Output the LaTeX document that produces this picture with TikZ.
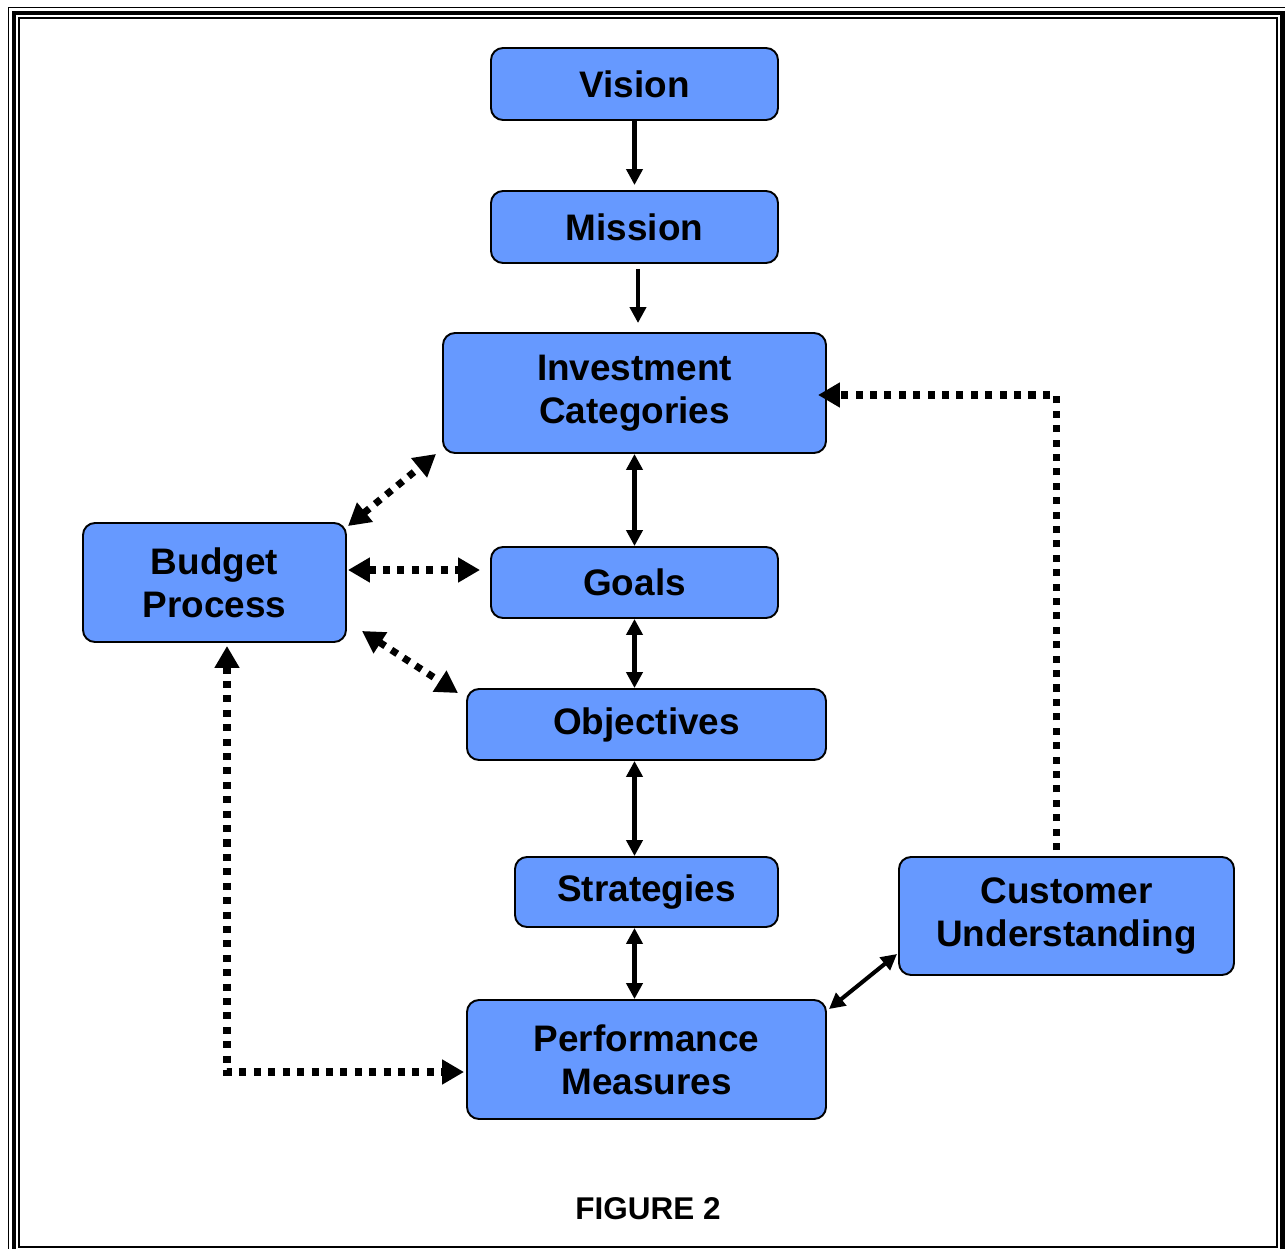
\documentclass[tikz,border=0pt]{standalone}
\usepackage{fontspec}
\setmainfont{Liberation Sans}
\usetikzlibrary{arrows.meta,calc}
\definecolor{boxblue}{HTML}{6699FF}
\begin{document}
\begin{tikzpicture}[x=0.2mm,y=-0.2mm,
  box/.style={draw=black, line width=1.1pt, fill=boxblue, rounded corners=2.4mm, inner sep=0pt, align=center,
    font=\fontsize{21}{24.5}\selectfont\bfseries},
  solidarrow/.style={line width=2.3pt, {Triangle[length=9pt,width=9pt]}-{Triangle[length=9pt,width=9pt]}},
  solidone/.style={line width=2.3pt, -{Triangle[length=9pt,width=9pt]}},
  dotarrow/.style={line width=4pt, dash pattern=on 4pt off 4.2pt, {Triangle[length=12.5pt,width=13.5pt]}-{Triangle[length=12.5pt,width=13.5pt]}},
  dotone/.style={line width=4pt, dash pattern=on 4pt off 4.2pt, -{Triangle[length=12.5pt,width=13.5pt]}},
]
\useasboundingbox (0,0) rectangle (1285,1249);
\fill[white] (0,0) rectangle (1285,1249);
% border
\draw[line width=1.1pt] (8.5,7.5) rectangle (1288,1258);
\draw[line width=2.8pt] (14,13) rectangle (1282.5,1252.5);
\draw[line width=1.1pt] (19,18) rectangle (1277,1247);

\node[box, minimum width=57.4mm, minimum height=14.4mm] (vision) at (634.5,84) {Vision};
\node[box, minimum width=57.4mm, minimum height=14.4mm] (mission) at (634.5,227) {Mission};
\node[box, minimum width=76.6mm, minimum height=24mm] (invest) at (634.5,393) {Investment\\Categories};
\node[box, minimum width=57.4mm, minimum height=14.2mm] (goals) at (634.5,582.5) {Goals};
\node[box, minimum width=71.8mm, minimum height=14.2mm] (objectives) at (646.5,724.5) {Objectives};
\node[box, minimum width=52.6mm, minimum height=14mm] (strategies) at (646.5,892) {Strategies};
\node[box, minimum width=71.8mm, minimum height=23.8mm] (perf) at (646.5,1059.5) {Performance\\Measures};
\node[box, minimum width=52.6mm, minimum height=23.8mm] (budget) at (214.5,582.5) {Budget\\Process};
\node[box, minimum width=67mm, minimum height=23.6mm] (customer) at (1066.5,916) {Customer\\Understanding};
\node[font=\fontsize{17.9}{20}\selectfont\bfseries] (fig) at (648,1209) {FIGURE 2};

% solid arrows
\draw[solidone] (vision.south) -- ($(mission.north)+(0,-5)$);
\draw[solidone] ($(mission.south)+(3.5,5)$) -- ($(invest.north)+(3.5,-9)$);
\draw[solidarrow] (invest.south) -- (goals.north);
\draw[solidarrow] (goals.south) -- (goals.south |- objectives.north);
\draw[solidarrow] (objectives.south -| goals.south) -- (strategies.north -| goals.south);
\draw[solidarrow] (strategies.south -| goals.south) -- (perf.north -| goals.south);
\draw[solidarrow] ($(perf.north east)+(2,10)$) -- ($(customer.south west)+(-1,-22)$);

% dotted arrows
\draw[dotarrow] ($(budget.north east)+(1,4)$) -- ($(invest.south west)+(-6,0)$);
\draw[dotarrow] ($(budget.east)+(1,-12.5)$) -- ($(goals.west)+(-10,-12.5)$);
\draw[dotarrow] ($(budget.south east)+(15,-12)$) -- ($(objectives.north west)+(-8,5)$);
\draw[dotone] ($(customer.north)+(-10.5,-6)$) |- ($(invest.east)+(-9,2)$);
\draw[dotarrow] ($(budget.south)+(12.5,3)$) |- ($(perf.west)+(-2,12.5)$);
\end{tikzpicture}
\end{document}
